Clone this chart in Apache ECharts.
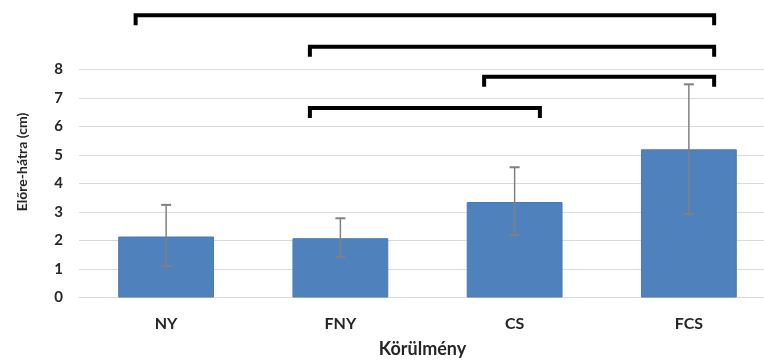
<!DOCTYPE html>
<html>
<head>
<meta charset="utf-8">
<script src="https://cdn.jsdelivr.net/npm/echarts@6/dist/echarts.min.js"></script>
<style>
html,body{margin:0;padding:0;background:#fff;}
#chart{width:764px;height:363px;}
</style>
</head>
<body>
<div id="chart"></div>
<script>
const categories = ['NY', 'FNY', 'CS', 'FCS'];
const means = [2.14, 2.08, 3.35, 5.2];
const errLow = [1.1, 1.43, 2.19, 2.93];
const errHigh = [3.25, 2.78, 4.57, 7.48];
const bracketFrom = ['NY', 'FNY', 'CS', 'FNY'];
const bracketTo = ['FCS', 'FCS', 'FCS', 'CS'];
const bracketLevel = [9.9, 8.8, 7.75, 6.65];
const yTicks = ['0', '1', '2', '3', '4', '5', '6', '7', '8'];

const FONT = 'Lato';
const TXT = '#262626';
const errData = categories.map((c, i) => [i, errLow[i], errHigh[i]]);
const bracketData = bracketFrom.map((f, i) => [categories.indexOf(f), categories.indexOf(bracketTo[i]), bracketLevel[i]]);

const chart = echarts.init(document.getElementById('chart'));
chart.setOption({
  animation: false,
  backgroundColor: '#fff',
  grid: { left: 79, top: 69.5, width: 697, height: 228, outerBoundsMode: 'none', containLabel: false },
  xAxis: {
    type: 'category',
    data: categories,
    axisLine: { lineStyle: { color: '#d9d9d9', width: 1 } },
    axisTick: { show: false },
    axisLabel: { color: TXT, fontFamily: FONT, fontWeight: 'bold', fontSize: 16, margin: 18 },
    name: 'Körülmény',
    nameLocation: 'middle',
    nameGap: 43,
    nameTextStyle: { color: TXT, fontFamily: FONT, fontWeight: 'bold', fontSize: 18, padding: [0, 10, 0, 0] }
  },
  yAxis: {
    type: 'value',
    min: 0, max: 8, interval: 1,
    axisLine: { show: false },
    axisTick: { show: false },
    splitLine: { lineStyle: { color: '#d9d9d9', width: 1 } },
    axisLabel: {
      color: TXT, fontFamily: FONT, fontWeight: 'bold', fontSize: 15, margin: 16,
      formatter: v => yTicks[Math.round(v)]
    }
  },
  graphic: [{
    type: 'text',
    x: 22, y: 162,
    rotation: Math.PI / 2,
    style: {
      text: 'Előre-hátra (cm)',
      fill: TXT,
      font: 'bold 14px ' + FONT,
      textAlign: 'center',
      textVerticalAlign: 'middle'
    }
  }],
  series: [
    {
      type: 'bar',
      data: means,
      barWidth: '55%',
      itemStyle: { color: '#4f81bd', borderColor: '#4a7ab5', borderWidth: 1 }
    },
    {
      type: 'custom',
      data: errData,
      encode: { x: 0, y: [1, 2] },
      z: 5,
      renderItem: function (params, api) {
        const i = api.value(0);
        const lo = api.coord([i, api.value(1)]);
        const hi = api.coord([i, api.value(2)]);
        const cap = 5;
        const st = { stroke: '#808080', lineWidth: 1.5 };
        return {
          type: 'group',
          children: [
            { type: 'line', shape: { x1: hi[0], y1: hi[1], x2: lo[0], y2: lo[1] }, style: st },
            { type: 'line', shape: { x1: hi[0] - cap, y1: hi[1], x2: hi[0] + cap, y2: hi[1] }, style: { stroke: '#808080', lineWidth: 2 } },
            { type: 'line', shape: { x1: lo[0] - cap, y1: lo[1], x2: lo[0] + cap, y2: lo[1] }, style: { stroke: '#808080', lineWidth: 2 } }
          ]
        };
      }
    },
    {
      type: 'custom',
      data: bracketData,
      encode: { x: [0, 1], y: 2 },
      clip: false,
      z: 6,
      renderItem: function (params, api) {
        const a = api.coord([api.value(0), api.value(2)]);
        const b = api.coord([api.value(1), api.value(2)]);
        const band = api.size([1, 0])[0];
        const left = a[0] - 0.175 * band;
        const right = b[0] + 0.145 * band;
        const y = a[1];
        const drop = 10;
        return {
          type: 'polyline',
          shape: { points: [[left, y + drop], [left, y], [right, y], [right, y + drop]] },
          style: { stroke: '#000', lineWidth: 4, fill: null, lineJoin: 'miter' }
        };
      }
    }
  ]
});
</script>
</body>
</html>
